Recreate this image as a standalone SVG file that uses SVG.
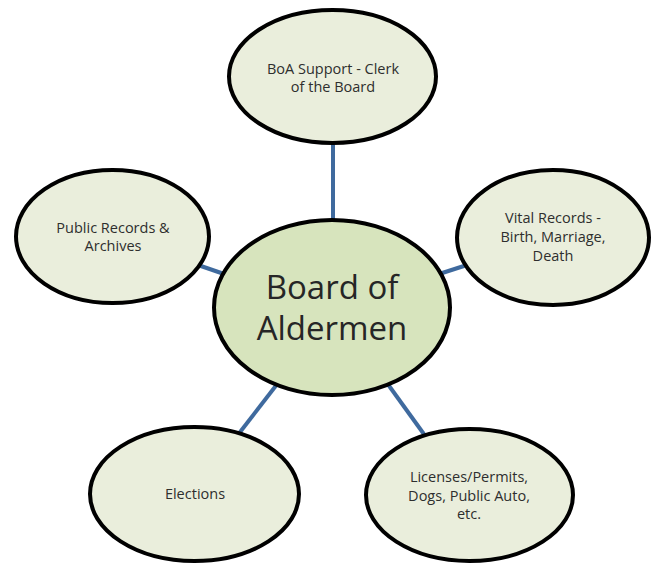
<svg xmlns="http://www.w3.org/2000/svg" width="652" height="565" viewBox="0 0 652 565">
<style>
.node{fill:#EAEEDC;stroke:#000;stroke-width:4}
.main{fill:#D7E4BD;stroke:#000;stroke-width:4}
.lbl{font-family:"Open Sans","Noto Sans",sans-serif;font-size:14.5px;fill:#2e2e2e;text-anchor:middle}
.big{font-family:"Open Sans","Noto Sans",sans-serif;font-size:33px;fill:#262626;text-anchor:middle}
.con{stroke:#3F6A9E;stroke-width:4;fill:none}
</style>
<rect width="652" height="565" fill="#fff"/>
<g id="connectors">
<line class="con" x1="333" y1="140" x2="333" y2="222"/>
<line class="con" x1="198" y1="265" x2="227" y2="275"/>
<line class="con" x1="436" y1="275" x2="467" y2="265"/>
<line class="con" x1="237" y1="436" x2="278" y2="383"/>
<line class="con" x1="387" y1="383" x2="426" y2="437"/>
</g>
<g id="node-top">
<ellipse class="node" cx="332.5" cy="76.5" rx="103.5" ry="66.5"/>
<text class="lbl" x="333" y="74">BoA Support - Clerk</text>
<text class="lbl" x="333" y="91.5">of the Board</text>
</g>
<g id="node-left">
<ellipse class="node" cx="112.5" cy="236.5" rx="96.5" ry="66.5"/>
<text class="lbl" x="113" y="233">Public Records &amp;</text>
<text class="lbl" x="113" y="251">Archives</text>
</g>
<g id="node-right">
<ellipse class="node" cx="553" cy="237.5" rx="96" ry="67.5"/>
<text class="lbl" x="553" y="223">Vital Records -</text>
<text class="lbl" x="553" y="242">Birth, Marriage,</text>
<text class="lbl" x="553" y="261">Death</text>
</g>
<g id="node-bottom-left">
<ellipse class="node" cx="194.5" cy="494" rx="104.5" ry="67"/>
<text class="lbl" x="195" y="499">Elections</text>
</g>
<g id="node-bottom-right">
<ellipse class="node" cx="469.5" cy="495" rx="103.5" ry="66"/>
<text class="lbl" x="469" y="482">Licenses/Permits,</text>
<text class="lbl" x="469" y="501">Dogs, Public Auto,</text>
<text class="lbl" x="469" y="519">etc.</text>
</g>
<g id="node-center">
<ellipse class="main" cx="332" cy="307.5" rx="118" ry="87.5"/>
<text class="big" x="332" y="299">Board of</text>
<text class="big" x="332" y="340">Aldermen</text>
</g>
</svg>
